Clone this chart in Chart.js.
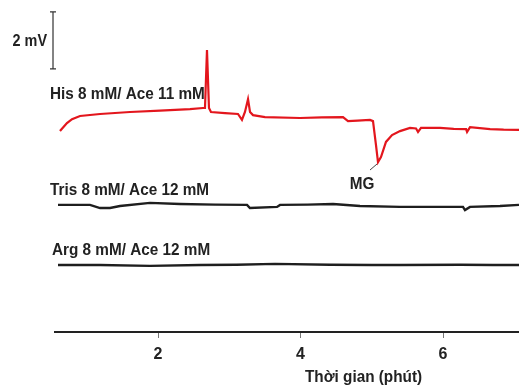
<!DOCTYPE html>
<html>
<head>
<meta charset="utf-8">
<script src="https://cdn.jsdelivr.net/npm/chart.js@4"></script>
<style>
  body { margin: 0; background: #fff; }
  canvas { display: block; }
</style>
</head>
<body>
<canvas id="myChart" width="519" height="390"></canvas>
<script>
// time in minutes, signal in mV (offset so traces stack)
const redTime = [0.624, 0.722, 0.793, 0.905, 1.186, 1.607, 2.028, 2.449, 2.631, 2.659, 2.687, 2.715, 2.743, 2.94, 3.122, 3.178, 3.22, 3.263, 3.291, 3.333, 3.501, 3.993, 4.3, 4.596, 4.666, 4.8, 4.975, 5.017, 5.059, 5.087, 5.129, 5.199, 5.284, 5.396, 5.536, 5.621, 5.649, 5.691, 5.958, 6.15, 6.323, 6.337, 6.379, 6.66, 6.85, 7.066];
const redSignal = [7.05, 7.33, 7.47, 7.58, 7.65, 7.72, 7.77, 7.82, 7.86, 7.86, 9.89, 7.86, 7.72, 7.68, 7.65, 7.44, 7.72, 8.17, 7.72, 7.61, 7.54, 7.51, 7.53, 7.54, 7.40, 7.42, 7.44, 7.40, 6.56, 5.96, 6.14, 6.67, 6.91, 7.05, 7.16, 7.14, 7.02, 7.16, 7.16, 7.13, 7.12, 7.02, 7.19, 7.12, 7.10, 7.09];

const trisTime = [0.596, 1.045, 1.186, 1.326, 1.466, 1.887, 2.308, 2.8, 3.249, 3.29, 3.67, 3.712, 4.1, 4.456, 4.835, 5.396, 5.859, 6.28, 6.308, 6.378, 6.8, 7.066];
const trisSignal = [4.46, 4.46, 4.35, 4.35, 4.42, 4.53, 4.49, 4.47, 4.46, 4.35, 4.39, 4.46, 4.47, 4.49, 4.42, 4.39, 4.39, 4.39, 4.28, 4.39, 4.42, 4.46];

const argTime = [0.596, 1.186, 1.887, 2.589, 3.1, 3.642, 4.414, 5.0, 5.396, 6.238, 6.7, 7.066];
const argSignal = [2.35, 2.35, 2.32, 2.35, 2.36, 2.39, 2.36, 2.35, 2.35, 2.36, 2.35, 2.35];

const tickValues = [2, 4, 6];
const xMin = 0.554, xMax = 7.066;
const yMin = 0, yMax = 11.65;

const FONT = "'Liberation Sans', Arial, sans-serif";

const toPoints = (xs, ys) => xs.map((x, i) => ({ x: x, y: ys[i] }));

// narrow-looking bold text (squeezed horizontally)
const narrowText = (c, txt, x, y, align) => {
  c.save();
  c.translate(x, y);
  c.scale(0.9, 1);
  c.textAlign = align;
  c.fillText(txt, 0, 0);
  c.restore();
};

const labelsPlugin = {
  id: 'labels',
  afterDraw(chart) {
    const c = chart.ctx;
    const xs = chart.scales.x;
    const ys = chart.scales.y;
    c.save();
    // 2 mV scale bar
    const bx = xs.getPixelForValue(0.526);
    const bTop = ys.getPixelForValue(11.23);
    const bBot = ys.getPixelForValue(9.23);
    c.strokeStyle = '#333';
    c.lineWidth = 1.2;
    c.beginPath();
    c.moveTo(bx, bTop); c.lineTo(bx, bBot);
    c.moveTo(bx - 3, bTop); c.lineTo(bx + 3, bTop);
    c.moveTo(bx - 3, bBot); c.lineTo(bx + 3, bBot);
    c.stroke();

    c.fillStyle = '#222';
    c.font = 'bold 16px ' + FONT;
    c.textBaseline = 'middle';
    narrowText(c, '2 mV', 47, 42, 'right');
    c.font = 'bold 17px ' + FONT;
    narrowText(c, 'His 8 mM/ Ace 11 mM', 50, 94, 'left');
    narrowText(c, 'Tris 8 mM/ Ace 12 mM', 50, 190, 'left');
    narrowText(c, 'Arg 8 mM/ Ace 12 mM', 52, 250, 'left');
    narrowText(c, 'MG', 362, 184, 'center');
    narrowText(c, 'Thời gian (phút)', 305, 377, 'left');

    // MG pointer
    c.strokeStyle = '#444';
    c.lineWidth = 1;
    c.beginPath();
    c.moveTo(370, 170); c.lineTo(377, 164);
    c.stroke();
    c.restore();
  }
};

const ctx = document.getElementById('myChart');

new Chart(ctx, {
  type: 'line',
  data: {
    datasets: [
      { label: 'His', data: toPoints(redTime, redSignal), borderColor: '#e3161d', borderWidth: 2.2 },
      { label: 'Tris', data: toPoints(trisTime, trisSignal), borderColor: '#1e1e1e', borderWidth: 2.4 },
      { label: 'Arg', data: toPoints(argTime, argSignal), borderColor: '#1e1e1e', borderWidth: 2.4 }
    ]
  },
  options: {
    responsive: false,
    animation: false,
    devicePixelRatio: 1,
    layout: { padding: { left: 55, right: 0, top: 0, bottom: 0 } },
    elements: { point: { radius: 0 }, line: { tension: 0 } },
    plugins: { legend: { display: false }, tooltip: { enabled: false } },
    scales: {
      x: {
        type: 'linear',
        min: xMin,
        max: xMax,
        afterBuildTicks: axis => { axis.ticks = tickValues.map(v => ({ value: v })); },
        afterFit: axis => { axis.height = 58; },
        border: { display: true, color: '#222', width: 2 },
        grid: { display: true, drawOnChartArea: false, drawTicks: true, tickLength: 6, color: '#777', lineWidth: 1 },
        ticks: { color: '#222', padding: 7, maxRotation: 0, font: { family: FONT, size: 16, weight: 'bold' } }
      },
      y: {
        display: false,
        min: yMin,
        max: yMax
      }
    }
  },
  plugins: [labelsPlugin]
});
</script>
</body>
</html>
